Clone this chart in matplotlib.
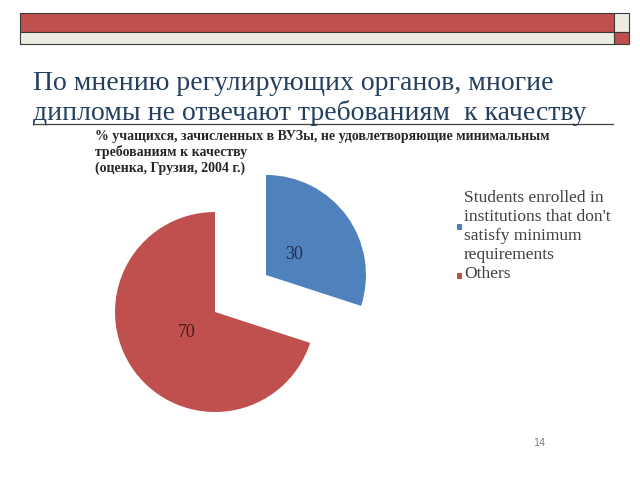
import matplotlib
matplotlib.use("Agg")
import matplotlib.pyplot as plt
from matplotlib.patches import Rectangle

categories = ["Students enrolled in\ninstitutions that don't\nsatisfy minimum\nrequirements", "Others"]
values = [30, 70]
colors = ["#4F81BD", "#C0504D"]
label_colors = ["#1F2F4F", "#4A1A1A"]
title = "По мнению регулирующих органов, многие\nдипломы не отвечают требованиям  к качеству"
subtitle = "% учащихся, зачисленных в ВУЗы, не удовлетворяющие минимальным\nтребованиям к качеству\n(оценка, Грузия, 2004 г.)"
page = "14"

W, H = 640, 480
fig = plt.figure(figsize=(6.4, 4.8), dpi=100)
fig.patch.set_facecolor("white")

def fx(x): return x / W
def fy(y): return 1 - y / H

# top decorative bar
bar = [(20, 13, 594, 19, "#C0504D"), (614, 13, 15, 19, "#EEECE1"),
       (20, 32, 594, 12, "#EEECE1"), (614, 32, 15, 12, "#C0504D")]
for x, y, w, h, c in bar:
    fig.patches.append(Rectangle((fx(x), fy(y + h)), w / W, h / H, transform=fig.transFigure,
                                 facecolor=c, edgecolor="#3a3a3a", linewidth=0.8))

# title
for i, line in enumerate(title.split("\n")):
    fig.text(fx(33), fy(90 + 30 * i), line, ha="left", va="baseline", fontsize=20,
             family="Liberation Serif", color="#243F60")
fig.add_artist(plt.Line2D([fx(33), fx(613)], [fy(124), fy(124)], transform=fig.transFigure,
                          color="#404040", linewidth=0.9))

# subtitle
for i, line in enumerate(subtitle.split("\n")):
    fig.text(fx(95), fy(140 + 16 * i), line, ha="left", va="baseline", fontsize=10,
             fontweight="bold", family="Liberation Serif", color="#262626")

# pie
cx, cy, r = 215, 312, 100
ax = fig.add_axes([fx(cx - 150), fy(cy + 150), 300 / W, 300 / H])
wedges, texts, autotexts = ax.pie(values, colors=colors, startangle=90, counterclock=False,
                                  explode=[0.63, 0], radius=1.0,
                                  autopct=lambda p: f"{p:.0f}", pctdistance=0.35,
                                  textprops=dict(fontsize=13, family="Liberation Serif"))
for t, c in zip(autotexts, label_colors):
    t.set_color(c)
ax.set_xlim(-1.5, 1.5)
ax.set_ylim(-1.5, 1.5)
ax.set_aspect("equal")
ax.axis("off")

# legend
legend_first_baseline = [202, 278]
legend_square_y = [224, 273]
for lab, c, yb, ys in zip(categories, colors, legend_first_baseline, legend_square_y):
    fig.patches.append(Rectangle((fx(456.5), fy(ys + 5.5)), 5.5 / W, 5.5 / H,
                                 transform=fig.transFigure, facecolor=c, edgecolor="none"))
    for j, line in enumerate(lab.split("\n")):
        fig.text(fx(464), fy(yb + 19 * j), line, ha="left", va="baseline", fontsize=12.5,
                 family="Liberation Serif", color="#404040")

fig.text(fx(540), fy(443), page, ha="center", va="center", fontsize=7, color="#7f7f7f")

fig.savefig("out.png", dpi=100)
